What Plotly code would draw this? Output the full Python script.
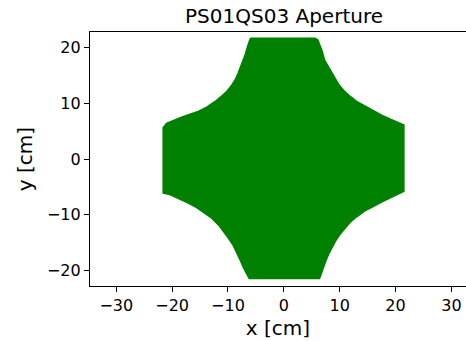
import plotly.graph_objects as go

# Aperture boundary (cm), clockwise from top-left
boundary_x = [-6.0, 5.6,
              6.1, 6.5, 6.9, 7.3, 7.8, 8.3, 9.0, 9.8, 10.8, 11.9, 13.2, 14.6, 16.0, 17.6, 19.2, 20.8, 21.5,
              21.5,
              20.2, 19.0, 17.5, 16.0, 14.5, 13.1, 11.8, 10.7, 9.9, 9.2, 8.5, 8.0, 7.5, 7.1, 6.7, 6.4,
              -6.2,
              -6.7, -7.2, -7.8, -8.4, -9.1, -9.9, -10.8, -11.7, -12.9, -14.1, -15.6, -17.1, -18.3, -19.5, -20.6, -21.6,
              -21.6,
              -21.0, -19.6, -18.3, -16.8, -15.3, -13.8, -12.3, -11.2, -10.2, -9.4, -8.7, -8.2, -7.8, -7.3, -6.9, -6.5, -6.1, -6.0]
boundary_y = [21.6, 21.6,
              21.3, 20.2, 19.2, 17.7, 16.8, 15.9, 14.6, 13.4, 12.2, 11.2, 10.2, 9.4, 8.6, 7.8, 7.1, 6.5, 6.1,
              -5.8,
              -6.4, -7.0, -7.7, -8.5, -9.3, -10.3, -11.4, -12.7, -13.7, -14.8, -16.0, -17.1, -18.3, -19.5, -20.6, -21.4,
              -21.4,
              -20.5, -19.5, -18.1, -16.8, -15.4, -14.2, -12.9, -11.8, -10.6, -9.7, -8.7, -7.9, -7.3, -6.7, -6.3, -6.1,
              5.6,
              6.4, 7.0, 7.5, 8.0, 8.5, 9.3, 10.3, 11.2, 12.1, 13.1, 14.2, 15.3, 16.3, 17.5, 18.7, 20.1, 21.3, 21.6]

x_ticks = [-30, -20, -10, 0, 10, 20, 30]
y_ticks = [-20, -10, 0, 10, 20]
title = "PS01QS03 Aperture"

FONT = "DejaVu Sans"

fig = go.Figure()
fig.add_trace(go.Scatter(
    x=boundary_x, y=boundary_y, mode="lines", fill="toself",
    fillcolor="#008000", line=dict(color="#008000", width=1.5),
    hoverinfo="skip", showlegend=False))

fig.update_layout(
    width=466, height=341,
    margin=dict(l=90, r=0, t=32, b=55),
    paper_bgcolor="white", plot_bgcolor="white",
    font=dict(family=FONT, color="black", size=16),
    title=dict(text=title, x=0.516, xanchor="center", xref="paper",
               y=0.953, yanchor="middle", yref="container",
               font=dict(family=FONT, size=20, color="black")),
    showlegend=False,
)
fig.update_xaxes(
    range=[-34.7, 32.62], tickvals=x_ticks,
    ticktext=[str(v).replace("-", "\u2212") for v in x_ticks],
    showgrid=False, zeroline=False,
    showline=True, linecolor="black", linewidth=1.2, mirror=True,
    ticks="outside", ticklen=5, tickwidth=1.2, tickcolor="black",
    tickfont=dict(family=FONT, size=16, color="black"),
    title=dict(text="x [cm]", font=dict(family=FONT, size=20, color="black"), standoff=6),
)
fig.update_yaxes(
    range=[-22.74, 22.74], tickvals=y_ticks,
    ticktext=[str(v).replace("-", "\u2212") for v in y_ticks],
    showgrid=False, zeroline=False,
    showline=True, linecolor="black", linewidth=1.2, mirror=False,
    ticks="outside", ticklen=5, tickwidth=1.2, tickcolor="black",
    tickfont=dict(family=FONT, size=16, color="black"),
    title=dict(text="y [cm]", font=dict(family=FONT, size=20, color="black"), standoff=8),
)

fig.write_html("out.html")
